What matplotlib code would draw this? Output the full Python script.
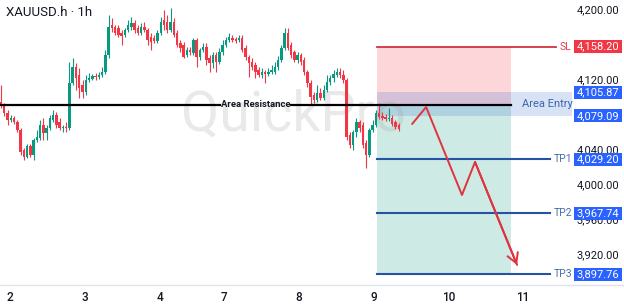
import matplotlib
matplotlib.use("Agg")
import matplotlib.pyplot as plt
from matplotlib.patches import Rectangle
import numpy as np

plt.rcParams['font.family'] = ['Roboto', 'DejaVu Sans']

# ---------------- data ----------------
title = "XAUUSD.h · 1h"

opens = [4095, 4091, 4082, 4074, 4077, 4072, 4063, 4040, 4032, 4045,
         4034, 4051, 4054, 4069, 4059, 4065, 4074, 4080, 4072, 4065,
         4066, 4065, 4117, 4135, 4126, 4114, 4106, 4120, 4121, 4125,
         4123, 4126, 4129, 4149, 4183, 4181, 4179, 4174, 4171, 4177,
         4181, 4185, 4179, 4174, 4181, 4177, 4169, 4168, 4165, 4174,
         4189, 4186, 4177, 4186, 4174, 4162, 4160, 4149, 4154, 4151,
         4166, 4146, 4154, 4158, 4145, 4139, 4149, 4141, 4152, 4160,
         4166, 4168, 4167, 4166, 4168, 4157, 4146, 4141, 4137, 4131,
         4126, 4129, 4127, 4129, 4129, 4135, 4143, 4157, 4174, 4160,
         4152, 4143, 4149, 4143, 4129, 4117, 4103, 4097, 4105, 4099,
         4109, 4118, 4122, 4126, 4129, 4126, 4120, 4057, 4046, 4060,
         4072, 4069, 4048, 4034, 4063, 4069, 4082, 4079, 4078, 4075,
         4077, 4072, 4069]
highs = [4114, 4094, 4086, 4080, 4079, 4074, 4065, 4042, 4047, 4047,
         4054, 4063, 4074, 4077, 4069, 4080, 4086, 4083, 4077, 4069,
         4072, 4141, 4145, 4139, 4134, 4120, 4126, 4128, 4127, 4128,
         4129, 4135, 4154, 4194, 4191, 4183, 4183, 4177, 4179, 4189,
         4192, 4189, 4183, 4185, 4186, 4179, 4174, 4171, 4177, 4192,
         4200, 4194, 4202, 4191, 4177, 4166, 4163, 4158, 4158, 4168,
         4168, 4157, 4162, 4162, 4149, 4152, 4152, 4157, 4166, 4169,
         4174, 4171, 4169, 4171, 4171, 4160, 4149, 4145, 4141, 4135,
         4134, 4131, 4134, 4137, 4140, 4147, 4160, 4179, 4179, 4163,
         4154, 4152, 4151, 4146, 4131, 4120, 4106, 4114, 4111, 4114,
         4126, 4126, 4131, 4134, 4134, 4131, 4122, 4060, 4063, 4077,
         4074, 4072, 4051, 4065, 4074, 4086, 4094, 4083, 4081, 4088,
         4080, 4074, 4071]
lows = [4088, 4079, 4069, 4072, 4070, 4061, 4034, 4029, 4031, 4032,
        4029, 4049, 4051, 4051, 4051, 4063, 4072, 4065, 4063, 4061,
        4061, 4063, 4114, 4108, 4099, 4099, 4103, 4118, 4120, 4120,
        4121, 4123, 4127, 4145, 4175, 4171, 4169, 4160, 4169, 4175,
        4177, 4174, 4171, 4171, 4175, 4160, 4154, 4162, 4162, 4171,
        4177, 4174, 4175, 4169, 4158, 4152, 4145, 4146, 4149, 4149,
        4135, 4143, 4152, 4137, 4129, 4134, 4129, 4138, 4149, 4158,
        4163, 4163, 4162, 4163, 4152, 4143, 4123, 4131, 4122, 4123,
        4122, 4117, 4125, 4127, 4127, 4131, 4141, 4154, 4154, 4145,
        4141, 4139, 4137, 4126, 4112, 4091, 4094, 4095, 4097, 4097,
        4106, 4114, 4118, 4123, 4122, 4117, 4051, 4042, 4040, 4055,
        4060, 4042, 4019, 4032, 4061, 4066, 4075, 4074, 4073, 4073,
        4067, 4064, 4062]
closes = [4091, 4082, 4074, 4077, 4072, 4063, 4038, 4032, 4045, 4034,
          4051, 4055, 4069, 4059, 4065, 4077, 4080, 4069, 4065, 4066,
          4065, 4117, 4135, 4122, 4111, 4106, 4120, 4122, 4125, 4123,
          4126, 4129, 4149, 4181, 4179, 4174, 4171, 4170, 4177, 4183,
          4185, 4177, 4174, 4181, 4177, 4166, 4163, 4165, 4174, 4186,
          4183, 4177, 4186, 4171, 4160, 4157, 4146, 4154, 4152, 4166,
          4146, 4154, 4158, 4143, 4139, 4149, 4141, 4152, 4160, 4166,
          4169, 4166, 4165, 4168, 4154, 4146, 4139, 4135, 4129, 4126,
          4129, 4127, 4129, 4131, 4135, 4143, 4157, 4174, 4157, 4149,
          4143, 4149, 4141, 4129, 4117, 4101, 4097, 4105, 4099, 4109,
          4118, 4122, 4127, 4129, 4126, 4120, 4055, 4046, 4060, 4072,
          4065, 4046, 4034, 4063, 4069, 4082, 4078, 4077, 4075, 4077,
          4070, 4066, 4064]

day_labels = ["2", "3", "4", "7", "8", "9", "10", "11"]
day_positions = [2.76, 25.8, 48.8, 68.4, 91.4, 114.4, 137.4, 160.1]

# price scale labels that remain visible (4,160 and 4,080 sit under the tag boxes)
price_ticks = [3920, 3960, 4000, 4040, 4120, 4200]

resistance_price = 4091.5
entry_price = 4091.5
stop_loss = 4158.20
area_entry_top = 4105.87
area_entry_bottom = 4079.09
take_profits = [4029.20, 3967.74, 3897.76]
tp_names = ["TP1", "TP2", "TP3"]

proj_x = [126.1, 130.4, 141.4, 145.4, 158.3]
proj_y = [4069.7, 4089.1, 3988.6, 4026.3, 3908.6]

# ---------------- layout ----------------
W, H = 624, 305
fig = plt.figure(figsize=(W / 100, H / 100), dpi=100)
ax = fig.add_axes([0, 20 / H, 1, 285 / H])
ax.set_xlim(-0.307, 191.1)
ax.set_ylim(3885.7, 4211.43)
ax.set_facecolor('white')
for s in ['top', 'left', 'right']:
    ax.spines[s].set_visible(False)
ax.spines['bottom'].set_color('#e0e3eb')
ax.spines['bottom'].set_linewidth(1)
ax.set_yticks([])
ax.set_xticks(day_positions)
ax.set_xticklabels(day_labels, fontsize=8.5, fontweight='medium', color='#131722')
ax.tick_params(axis='x', length=0, pad=4)

UP = '#089981'
DN = '#f23645'

# candles
x = np.arange(len(closes))
o = np.array(opens, float); c = np.array(closes, float)
h = np.array(highs, float); l = np.array(lows, float)
cols = [UP if cc >= oo else DN for oo, cc in zip(o, c)]
ax.vlines(x, l, h, colors=cols, linewidth=0.8, zorder=3)
bottoms = np.minimum(o, c)
heights = np.maximum(np.abs(c - o), 1.0)
ax.bar(x, heights, bottom=bottoms, width=0.75, color=cols, linewidth=0, zorder=3)

# position zones
zone_l, zone_r = 115.3, 156.4
ax.add_patch(Rectangle((zone_l, entry_price), zone_r - zone_l, stop_loss - entry_price,
                       facecolor='#f23645', alpha=0.2, linewidth=0, zorder=1))
ax.add_patch(Rectangle((zone_l, take_profits[-1]), zone_r - zone_l, entry_price - take_profits[-1],
                       facecolor='#089981', alpha=0.2, linewidth=0, zorder=1))
# area entry
ae_r = 175.2
ax.add_patch(Rectangle((zone_l, area_entry_bottom), ae_r - zone_l, area_entry_top - area_entry_bottom,
                       facecolor='#3d6fd0', alpha=0.2, linewidth=0, zorder=1.5))
ax.text(167.5, (area_entry_top + area_entry_bottom) / 2, "Area Entry", fontsize=8,
        color='#3b66b0', ha='center', va='center', zorder=5)

# watermark
ax.text(89.6, 4080, "QuickPro", fontsize=40, color='#9e9e9e', alpha=0.22,
        ha='center', va='center', zorder=2.5)

# resistance line, broken around its label
gap_l, gap_r = 67.2, 89.0
ax.plot([-0.307, gap_l], [resistance_price, resistance_price], color='black', lw=1.6, zorder=4)
ax.plot([gap_r, zone_r], [resistance_price, resistance_price], color='black', lw=1.6, zorder=4)
ax.text((gap_l + gap_r) / 2, resistance_price, "Area Resistance", fontsize=6.8, fontweight='bold',
        color='#131722', ha='center', va='center', zorder=5)

# SL line
ax.plot([zone_l, 170.2], [stop_loss, stop_loss], color='#d0343f', lw=1.3, zorder=4)
ax.text(171.3, stop_loss, "SL", fontsize=7.5, color='#e04050', ha='left', va='center', zorder=5)

# TP lines
for tp, name in zip(take_profits, tp_names):
    ax.plot([zone_l, 168.4], [tp, tp], color='#2453a6', lw=1.5, zorder=4)
    ax.text(169.5, tp, name, fontsize=7.5, color='#4a6fa8', ha='left', va='center', zorder=5)

# projection path
ax.plot(proj_x, proj_y, color='#e0333e', lw=1.4, zorder=6, solid_capstyle='round')
ax.annotate('', xy=(proj_x[-1], proj_y[-1]), xytext=(proj_x[-2], proj_y[-2]),
            arrowprops=dict(arrowstyle='->,head_length=0.7,head_width=0.4',
                            color='#e0333e', lw=1.4, shrinkA=0, shrinkB=0), zorder=6)

# price scale labels
lab_x = 183.1
for p in price_ticks:
    ax.text(lab_x, p, f"{p:,.2f}", fontsize=8, color='#131722', ha='center', va='center',
            zorder=5, clip_on=False)

box_w = 14.7
box_h = 14.5
def price_box(p, color):
    ax.add_patch(Rectangle((lab_x - box_w / 2, p - box_h / 2), box_w, box_h,
                           facecolor=color, edgecolor='none', zorder=7, clip_on=False))
    ax.text(lab_x, p, f"{p:,.2f}", fontsize=8, color='white', ha='center', va='center',
            zorder=8, clip_on=False)

price_box(stop_loss, '#f23645')
price_box(area_entry_top, '#2962ff')
price_box(area_entry_bottom, '#2962ff')
for tp in take_profits:
    price_box(tp, '#2962ff')

fig.text(6 / W, 1 - 12 / H, title, fontsize=9.5, color='#131722', ha='left', va='center')

fig.savefig('out.png', dpi=100)
